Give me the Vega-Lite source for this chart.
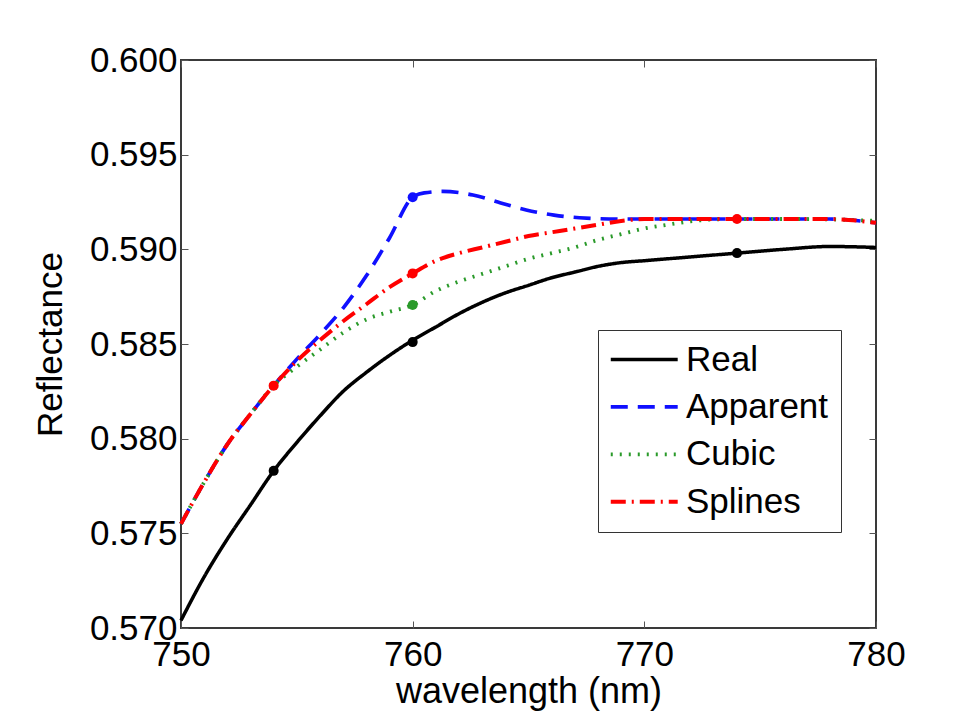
{
  "$schema": "https://vega.github.io/schema/vega-lite/v6.json",
  "width": 695,
  "height": 568,
  "autosize": {"type": "none"},
  "padding": {"left": 181, "top": 60, "right": 85, "bottom": 90},
  "background": "white",
  "config": {
    "font": "Liberation Sans",
    "view": {"stroke": "#3a3a3a", "strokeWidth": 2},
    "axis": {"labelFont": "Liberation Sans", "titleFont": "Liberation Sans", "labelColor": "black", "titleColor": "black", "labelFontSize": 35, "titleFontSize": 35, "titleFontWeight": "normal", "domain": false, "grid": false, "tickColor": "#555", "tickWidth": 1, "labelFlush": false, "labelOverlap": false}
  },
  "datasets": {
    "lines": [
      {"wavelength": 750, "value": 0.5704, "series": "Real"},
      {"wavelength": 751, "value": 0.5727, "series": "Real"},
      {"wavelength": 752, "value": 0.5747, "series": "Real"},
      {"wavelength": 753, "value": 0.5765, "series": "Real"},
      {"wavelength": 754, "value": 0.5783, "series": "Real"},
      {"wavelength": 755, "value": 0.5798, "series": "Real"},
      {"wavelength": 756, "value": 0.5812, "series": "Real"},
      {"wavelength": 757, "value": 0.5825, "series": "Real"},
      {"wavelength": 758, "value": 0.5835, "series": "Real"},
      {"wavelength": 759, "value": 0.5844, "series": "Real"},
      {"wavelength": 760, "value": 0.5852, "series": "Real"},
      {"wavelength": 761, "value": 0.5859, "series": "Real"},
      {"wavelength": 762, "value": 0.5866, "series": "Real"},
      {"wavelength": 763, "value": 0.5872, "series": "Real"},
      {"wavelength": 764, "value": 0.5877, "series": "Real"},
      {"wavelength": 765, "value": 0.5881, "series": "Real"},
      {"wavelength": 766, "value": 0.5885, "series": "Real"},
      {"wavelength": 767, "value": 0.5888, "series": "Real"},
      {"wavelength": 768, "value": 0.5891, "series": "Real"},
      {"wavelength": 769, "value": 0.5893, "series": "Real"},
      {"wavelength": 770, "value": 0.5894, "series": "Real"},
      {"wavelength": 772, "value": 0.5896, "series": "Real"},
      {"wavelength": 774, "value": 0.5898, "series": "Real"},
      {"wavelength": 776, "value": 0.5900, "series": "Real"},
      {"wavelength": 778, "value": 0.59015, "series": "Real"},
      {"wavelength": 780, "value": 0.5901, "series": "Real"},

      {"wavelength": 750, "value": 0.5755, "series": "Apparent"},
      {"wavelength": 751, "value": 0.5777, "series": "Apparent"},
      {"wavelength": 752, "value": 0.5797, "series": "Apparent"},
      {"wavelength": 753, "value": 0.5813, "series": "Apparent"},
      {"wavelength": 754, "value": 0.5828, "series": "Apparent"},
      {"wavelength": 755, "value": 0.5842, "series": "Apparent"},
      {"wavelength": 756, "value": 0.5855, "series": "Apparent"},
      {"wavelength": 757, "value": 0.5869, "series": "Apparent"},
      {"wavelength": 758, "value": 0.5886, "series": "Apparent"},
      {"wavelength": 759, "value": 0.5906, "series": "Apparent"},
      {"wavelength": 760, "value": 0.59275, "series": "Apparent"},
      {"wavelength": 760.5, "value": 0.59298, "series": "Apparent"},
      {"wavelength": 761.3, "value": 0.59306, "series": "Apparent"},
      {"wavelength": 762.6, "value": 0.59287, "series": "Apparent"},
      {"wavelength": 763.8, "value": 0.59245, "series": "Apparent"},
      {"wavelength": 764.9, "value": 0.59208, "series": "Apparent"},
      {"wavelength": 766.1, "value": 0.59181, "series": "Apparent"},
      {"wavelength": 767.2, "value": 0.59167, "series": "Apparent"},
      {"wavelength": 769, "value": 0.5916, "series": "Apparent"},
      {"wavelength": 772, "value": 0.5916, "series": "Apparent"},
      {"wavelength": 775, "value": 0.5916, "series": "Apparent"},
      {"wavelength": 778, "value": 0.5916, "series": "Apparent"},
      {"wavelength": 780, "value": 0.5914, "series": "Apparent"},

      {"wavelength": 750, "value": 0.5755, "series": "Cubic"},
      {"wavelength": 751, "value": 0.5777, "series": "Cubic"},
      {"wavelength": 752, "value": 0.5797, "series": "Cubic"},
      {"wavelength": 753, "value": 0.5813, "series": "Cubic"},
      {"wavelength": 754, "value": 0.5828, "series": "Cubic"},
      {"wavelength": 755, "value": 0.5838, "series": "Cubic"},
      {"wavelength": 756, "value": 0.5847, "series": "Cubic"},
      {"wavelength": 757, "value": 0.5856, "series": "Cubic"},
      {"wavelength": 758, "value": 0.5863, "series": "Cubic"},
      {"wavelength": 759, "value": 0.5867, "series": "Cubic"},
      {"wavelength": 760, "value": 0.58706, "series": "Cubic"},
      {"wavelength": 761, "value": 0.5878, "series": "Cubic"},
      {"wavelength": 762, "value": 0.5883, "series": "Cubic"},
      {"wavelength": 763, "value": 0.5887, "series": "Cubic"},
      {"wavelength": 764, "value": 0.5891, "series": "Cubic"},
      {"wavelength": 765, "value": 0.5895, "series": "Cubic"},
      {"wavelength": 766, "value": 0.5898, "series": "Cubic"},
      {"wavelength": 767, "value": 0.5901, "series": "Cubic"},
      {"wavelength": 768, "value": 0.5905, "series": "Cubic"},
      {"wavelength": 769, "value": 0.5908, "series": "Cubic"},
      {"wavelength": 770, "value": 0.5911, "series": "Cubic"},
      {"wavelength": 771, "value": 0.5913, "series": "Cubic"},
      {"wavelength": 772, "value": 0.59148, "series": "Cubic"},
      {"wavelength": 773, "value": 0.59158, "series": "Cubic"},
      {"wavelength": 774, "value": 0.5916, "series": "Cubic"},
      {"wavelength": 777, "value": 0.5916, "series": "Cubic"},
      {"wavelength": 780, "value": 0.5915, "series": "Cubic"},

      {"wavelength": 750, "value": 0.5755, "series": "Splines"},
      {"wavelength": 751, "value": 0.5777, "series": "Splines"},
      {"wavelength": 752, "value": 0.5797, "series": "Splines"},
      {"wavelength": 753, "value": 0.5813, "series": "Splines"},
      {"wavelength": 754, "value": 0.5828, "series": "Splines"},
      {"wavelength": 755, "value": 0.5841, "series": "Splines"},
      {"wavelength": 756, "value": 0.5852, "series": "Splines"},
      {"wavelength": 757, "value": 0.5862, "series": "Splines"},
      {"wavelength": 758, "value": 0.5871, "series": "Splines"},
      {"wavelength": 759, "value": 0.5880, "series": "Splines"},
      {"wavelength": 760, "value": 0.58873, "series": "Splines"},
      {"wavelength": 761, "value": 0.5894, "series": "Splines"},
      {"wavelength": 762, "value": 0.5898, "series": "Splines"},
      {"wavelength": 763, "value": 0.5901, "series": "Splines"},
      {"wavelength": 764, "value": 0.5904, "series": "Splines"},
      {"wavelength": 765, "value": 0.5907, "series": "Splines"},
      {"wavelength": 766, "value": 0.5909, "series": "Splines"},
      {"wavelength": 767, "value": 0.5911, "series": "Splines"},
      {"wavelength": 768, "value": 0.5913, "series": "Splines"},
      {"wavelength": 769, "value": 0.5915, "series": "Splines"},
      {"wavelength": 770, "value": 0.5916, "series": "Splines"},
      {"wavelength": 772, "value": 0.5916, "series": "Splines"},
      {"wavelength": 774, "value": 0.5916, "series": "Splines"},
      {"wavelength": 776, "value": 0.5916, "series": "Splines"},
      {"wavelength": 778, "value": 0.5916, "series": "Splines"},
      {"wavelength": 780, "value": 0.5914, "series": "Splines"}
    ],
    "markers": [
      {"wavelength": 754, "value": 0.5783, "series": "Real"},
      {"wavelength": 760, "value": 0.5851, "series": "Real"},
      {"wavelength": 774, "value": 0.5898, "series": "Real"},
      {"wavelength": 760, "value": 0.59275, "series": "Apparent"},
      {"wavelength": 760, "value": 0.58706, "series": "Cubic"},
      {"wavelength": 754, "value": 0.5828, "series": "Splines"},
      {"wavelength": 760, "value": 0.58873, "series": "Splines"},
      {"wavelength": 774, "value": 0.5916, "series": "Splines"}
    ]
  },
  "layer": [
    {
      "data": {"name": "lines"},
      "mark": {"type": "line", "interpolate": "monotone", "strokeCap": "butt"},
      "encoding": {
        "x": {"field": "wavelength", "type": "quantitative", "scale": {"domain": [750, 780], "nice": false, "zero": false},
              "axis": {"values": [750, 760, 770, 780], "title": "wavelength (nm)", "titleFontSize": 36, "tickSize": -7, "labelPadding": 16, "titlePadding": 2}},
        "y": {"field": "value", "type": "quantitative", "scale": {"domain": [0.570, 0.600], "nice": false, "zero": false},
              "axis": {"values": [0.570, 0.575, 0.580, 0.585, 0.590, 0.595, 0.600], "format": ".3f", "title": "Reflectance", "tickSize": -7, "labelPadding": 11, "titlePadding": 21}},
        "color": {"field": "series", "type": "nominal",
                  "scale": {"domain": ["Real", "Apparent", "Cubic", "Splines"], "range": ["#000000", "#1010ff", "#2a9a2a", "#ff0000"]},
                  "legend": {"title": null, "orient": "none", "legendX": 417, "legendY": 270, "symbolType": "M-2,0H6", "symbolSize": 280,
                             "labelFontSize": 35, "labelFont": "Liberation Sans", "labelColor": "black", "labelOffset": 41,
                             "padding": 12, "strokeColor": "#333", "fillColor": "white", "rowPadding": 11.4, "symbolStrokeWidth": 3}},
        "strokeDash": {"field": "series", "type": "nominal",
                       "scale": {"domain": ["Real", "Apparent", "Cubic", "Splines"], "range": [[1, 0], [17, 10], [2, 7], [15, 6, 2, 6]]}},
        "strokeWidth": {"field": "series", "type": "nominal", "legend": null,
                        "scale": {"domain": ["Real", "Apparent", "Cubic", "Splines"], "range": [3.5, 4, 2.5, 4]}}
      }
    },
    {
      "data": {"name": "markers"},
      "mark": {"type": "point", "filled": true, "opacity": 1, "size": 100},
      "encoding": {
        "x": {"field": "wavelength", "type": "quantitative", "axis": null},
        "y": {"field": "value", "type": "quantitative", "axis": null},
        "fill": {"field": "series", "type": "nominal", "legend": null,
                 "scale": {"domain": ["Real", "Apparent", "Cubic", "Splines"], "range": ["#000000", "#1010ff", "#2a9a2a", "#ff0000"]}}
      }
    },
    {
      "data": {"name": "markers"},
      "mark": {"type": "point", "opacity": 0},
      "encoding": {
        "x": {"field": "wavelength", "type": "quantitative", "axis": {"orient": "top", "values": [750, 760, 770, 780], "labels": false, "title": null, "tickSize": -7}},
        "y": {"field": "value", "type": "quantitative", "axis": {"orient": "right", "values": [0.570, 0.575, 0.580, 0.585, 0.590, 0.595, 0.600], "labels": false, "title": null, "tickSize": -7}}
      }
    }
  ],
  "resolve": {"axis": {"x": "independent", "y": "independent"}}
}
